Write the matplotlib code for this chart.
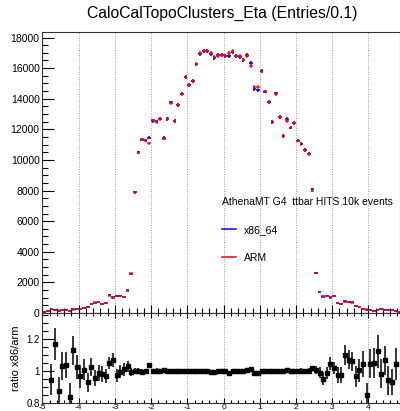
import numpy as np
import matplotlib
matplotlib.use('Agg')
import matplotlib.pyplot as plt
from matplotlib.lines import Line2D
from matplotlib.ticker import MultipleLocator, FormatStrFormatter

plt.rcParams['font.family'] = ['Liberation Sans', 'DejaVu Sans']

# bin centres, eta bins of width 0.1
eta = np.arange(-4.95, 5.0, 0.1)

# ARM counts per bin
arm = [60, 150, 260, 190, 170, 190, 215, 150, 215, 260,
       260, 320, 410, 560, 690, 710, 600, 670, 1140, 970,
       1140, 1140, 1050, 1440, 2590, 7890, 10470, 11360, 11250, 11080,
       12590, 12480, 12670, 11400, 12710, 13730, 12560, 13620, 14310, 15390,
       14930, 15130, 16270, 16980, 17130, 17130, 16960, 16700, 16810, 16870,
       16810, 16980, 17090, 16770, 16770, 16550, 16770, 16120, 14800, 14760,
       15800, 14480, 13790, 12500, 14330, 12820, 11570, 12560, 12110, 12390,
       11270, 11030, 10670, 10390, 7970, 2590, 1400, 1120, 1140, 970,
       1120, 650, 580, 690, 690, 650, 470, 370, 260, 260,
       215, 150, 170, 240, 215, 190, 215, 110, 80, 40]

# x86_64 counts per bin
x86 = [55, 140, 246, 222, 149, 196, 224, 126, 243, 266,
       251, 323, 381, 574, 660, 701, 588, 650, 1197, 1038,
       1112, 1135, 1063, 1483, 2577, 7890, 10500, 11330, 11280, 11460,
       12560, 12520, 12700, 11460, 12680, 13760, 12540, 13600, 14340, 15420,
       14900, 15160, 16240, 16950, 17150, 17090, 16900, 16640, 16830, 16880,
       16800, 16790, 17080, 16790, 16740, 16560, 16840, 16310, 14650, 14540,
       15820, 14470, 13800, 12480, 14350, 12800, 11560, 12670, 12110, 12410,
       11250, 11060, 10650, 10410, 8100, 2610, 1386, 1066, 1126, 1015,
       1141, 632, 567, 759, 738, 689, 455, 371, 272, 222,
       225, 158, 191, 236, 229, 179, 200, 115, 78, 38]

# ratio x86/arm as shown in the lower panel, and its error
ratio = [np.nan, np.nan, 0.946, 1.168, 0.876, 1.030, 1.040, 0.838, 1.128, 1.025,
         0.967, 1.008, 0.930, 1.025, 0.957, 0.988, 0.980, 0.970, 1.050, 1.070,
         0.975, 0.996, 1.012, 1.030, 0.995, 1.000, 1.003, 0.997, 1.002, 1.037,
         0.998, 1.003, 1.002, 1.005, 0.998, 1.002, 0.998, 0.999, 1.002, 1.002,
         0.998, 1.002, 0.998, 0.998, 1.001, 0.998, 0.996, 0.996, 1.001, 1.001,
         0.999, 0.989, 0.999, 1.001, 0.998, 1.001, 1.004, 1.012, 0.990, 0.985,
         1.001, 0.999, 1.001, 0.998, 1.001, 0.998, 0.999, 1.009, 1.000, 1.002,
         0.998, 1.003, 0.998, 1.002, 1.017, 1.008, 0.990, 0.952, 0.988, 1.046,
         1.019, 0.973, 0.977, 1.100, 1.070, 1.060, 0.967, 1.004, 1.046, 0.853,
         1.046, 1.050, 1.122, 0.983, 1.066, 0.942, 0.930, 1.046, np.nan, np.nan]

ratio_err = [0, 0, 0.096, 0.10, 0.085, 0.088, 0.080, 0.09, 0.09, 0.075,
             0.07, 0.065, 0.06, 0.055, 0.05, 0.05, 0.05, 0.045, 0.04, 0.045,
             0.04, 0.04, 0.04, 0.035, 0.025, 0.016, 0.014, 0.013, 0.013, 0.013,
             0.013, 0.013, 0.013, 0.013, 0.013, 0.012, 0.013, 0.012, 0.012, 0.011,
             0.012, 0.011, 0.011, 0.011, 0.011, 0.011, 0.011, 0.011, 0.011, 0.011,
             0.011, 0.011, 0.011, 0.011, 0.011, 0.011, 0.011, 0.011, 0.012, 0.012,
             0.011, 0.012, 0.012, 0.013, 0.012, 0.013, 0.013, 0.013, 0.013, 0.013,
             0.013, 0.013, 0.014, 0.014, 0.016, 0.025, 0.035, 0.04, 0.04, 0.04,
             0.04, 0.05, 0.05, 0.06, 0.06, 0.06, 0.065, 0.07, 0.08, 0.07,
             0.09, 0.09, 0.10, 0.09, 0.09, 0.09, 0.08, 0.10, 0, 0]

title = 'CaloCalTopoClusters_Eta (Entries/0.1)'
header = 'AthenaMT G4  ttbar HITS 10k events'

fig = plt.figure(figsize=(4.0, 4.11), dpi=100)
L, W = 0.106, 0.894
ax = fig.add_axes([L, 0.2384, W, 0.6837])
axr = fig.add_axes([L, 0.0187, W, 0.2197], sharex=ax)

x86 = np.array(x86, float)
arm = np.array(arm, float)

ax.errorbar(eta, x86, xerr=0.05, yerr=np.sqrt(x86), fmt='none',
            ecolor='blue', elinewidth=1.1, capsize=0)
ax.errorbar(eta, arm, xerr=0.05, yerr=np.sqrt(arm), fmt='none',
            ecolor='red', elinewidth=1.1, capsize=0, alpha=0.85)

axr.errorbar(eta, ratio, yerr=ratio_err, fmt='s', color='black',
             markersize=3.3, elinewidth=1.1, capsize=0)

for a in (ax, axr):
    a.grid(axis='x', color='#999999', linestyle=(0, (1, 1.5)), linewidth=0.7)
    a.set_axisbelow(True)
    for s in a.spines.values():
        s.set_linewidth(0.8)
        s.set_color('#333333')
    a.xaxis.set_major_locator(MultipleLocator(1))
    a.xaxis.set_minor_locator(MultipleLocator(0.2))

ax.set_xlim(-5, 4.87)
ax.set_ylim(0, 18360)
ax.yaxis.set_major_locator(MultipleLocator(2000))
ax.yaxis.set_minor_locator(MultipleLocator(500))
ax.tick_params(axis='y', which='major', direction='in', length=8.6, width=0.8, labelsize=7.5, pad=2)
ax.tick_params(axis='y', which='minor', direction='in', length=4.3, width=0.8)
ax.tick_params(axis='x', which='major', direction='in', length=6, width=0.8, labelbottom=False)
ax.tick_params(axis='x', which='minor', direction='in', length=3.5, width=0.8)

axr.set_ylim(0.8, 1.36)
axr.yaxis.set_major_locator(MultipleLocator(0.2))
axr.yaxis.set_minor_locator(MultipleLocator(0.05))
axr.yaxis.set_major_formatter(FormatStrFormatter('%g'))
axr.xaxis.set_major_formatter(FormatStrFormatter('%g'))
axr.tick_params(axis='y', which='major', direction='in', length=8.6, width=0.8, labelsize=7, pad=2)
axr.tick_params(axis='y', which='minor', direction='in', length=4.3, width=0.8)
axr.tick_params(axis='x', which='major', direction='in', length=3.6, width=0.8,
                top=True, labelsize=6, pad=0.3)
axr.tick_params(axis='x', which='minor', direction='in', length=2.2, width=0.8, top=True)
axr.set_ylabel('ratio x86/arm', fontsize=8, labelpad=4)

handles = [Line2D([], [], color='blue', linewidth=1.1),
           Line2D([], [], color='red', linewidth=1.1)]
leg = ax.legend(handles, ['x86_64', 'ARM'], title=header, loc='upper left',
                bbox_to_anchor=(0.502, 0.414), frameon=False, fontsize=7.5,
                title_fontsize=7.5, alignment='left', borderpad=0, borderaxespad=0,
                handlelength=1.35, handletextpad=0.75, labelspacing=1.75)

fig.text(0.555, 0.968, title, ha='center', va='center', fontsize=11.3)

fig.savefig('out.png', dpi=100)
